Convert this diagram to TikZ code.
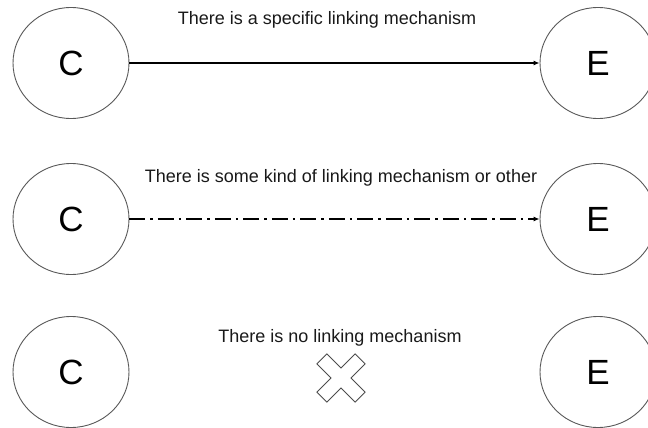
\documentclass[tikz,border=0pt]{standalone}
\usepackage{fontspec}
\setmainfont{Liberation Sans}
\usetikzlibrary{shapes.geometric,arrows.meta}

\tikzset{
  event/.style={ellipse, draw=black!65, line width=0.9pt, fill=white,
    minimum width=116pt, minimum height=111pt, inner sep=0pt,
    font=\fontsize{35}{40}\selectfont},
  caption/.style={font=\fontsize{18}{21}\selectfont, text=black!90, inner sep=0pt},
  link/.style={line width=1.2pt, -{Latex[length=6pt,width=5pt]}},
  dashdot/.style={dash pattern=on 16pt off 5pt on 2.5pt off 5pt},
  nolink/.style={draw=black!70, line width=0.9pt, fill=white, line join=miter}
}

\begin{document}
\begin{tikzpicture}[x=1pt,y=-1pt]
  \useasboundingbox (0,0) rectangle (648,428);
  \begin{scope}
    \clip (0,0) rectangle (648,428);

    % specific mechanism
    \node[event] (c1) at (71,63) {C};
    \node[event] (e1) at (598,63) {E};
    \node[caption] (t1) at (327,20) {There is a specific linking mechanism};
    \draw[link] (c1) -- (e1);

    % unspecified mechanism
    \node[event] (c2) at (71,219) {C};
    \node[event] (e2) at (598,219) {E};
    \node[caption] (t2) at (341,178) {There is some kind of linking mechanism or other};
    \draw[link,dashdot] (c2) -- (e2);

    % no mechanism
    \node[event] (c3) at (71,372) {C};
    \node[event] (e3) at (598,372) {E};
    \node[caption] (t3) at (340,338) {There is no linking mechanism};

    % outlined X mark
    \begin{scope}[shift={(341,378)}, rotate=45]
      \draw[nolink] (-7,-27) -- (7,-27) -- (7,-7) -- (27,-7) -- (27,7) -- (7,7)
        -- (7,27) -- (-7,27) -- (-7,7) -- (-27,7) -- (-27,-7) -- (-7,-7) -- cycle;
    \end{scope}
  \end{scope}
\end{tikzpicture}
\end{document}
